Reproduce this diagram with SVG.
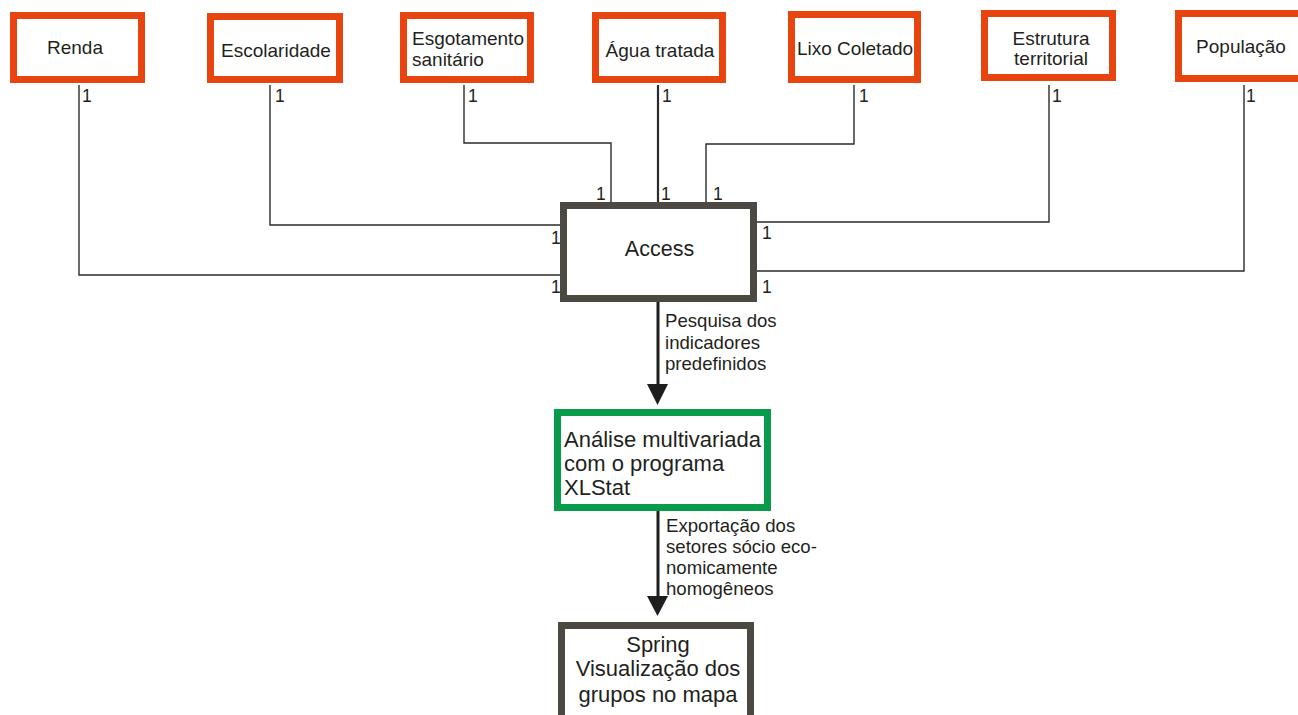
<svg xmlns="http://www.w3.org/2000/svg" width="1298" height="715" viewBox="0 0 1298 715">
<style>
  text { font-family: "Liberation Sans", Arial, sans-serif; fill: #231f20; }
  .src { fill: #ffffff; stroke: #e8440f; stroke-width: 7; }
  .dark { fill: #ffffff; stroke: #4b4942; stroke-width: 7; }
  .green { fill: #ffffff; stroke: #0a9a4c; stroke-width: 7; }
  .t19 { font-size: 19px; }
  .t22 { font-size: 22px; }
  .lbl { font-size: 18.6px; }
  .one { font-size: 17.5px; }
  .conn { fill: none; stroke: #2b2b2b; stroke-width: 1.4; }
  .arrow { fill: none; stroke: #1f1d1d; stroke-width: 3; }
  .head { fill: #1f1d1d; }
</style>
<rect width="1298" height="715" fill="#ffffff"/>

<g id="connectors">
  <path class="conn" d="M79 85 V275 H560"/>
  <path class="conn" d="M270 85 V225 H560"/>
  <path class="conn" d="M464 85 V143 H611 V202"/>
  <path class="conn" d="M658 85 V202" style="stroke-width:2.2"/>
  <path class="conn" d="M854 85 V144 H706 V202"/>
  <path class="conn" d="M1049 85 V222 H757"/>
  <path class="conn" d="M1244 85 V271 H757"/>
  <path class="arrow" d="M658 302 V388"/>
  <polygon class="head" points="647,384 668,384 657.5,405"/>
  <path class="arrow" d="M658 511 V599"/>
  <polygon class="head" points="647,596 668,596 657.5,616"/>
  <g class="one">
    <text x="82" y="102">1</text>
    <text x="275" y="102">1</text>
    <text x="468" y="102">1</text>
    <text x="662" y="102">1</text>
    <text x="859" y="102">1</text>
    <text x="1052" y="102">1</text>
    <text x="1246" y="102">1</text>
    <text x="596" y="200">1</text>
    <text x="661" y="200">1</text>
    <text x="713" y="200">1</text>
    <text x="551" y="244">1</text>
    <text x="551" y="293">1</text>
    <text x="762" y="239">1</text>
    <text x="762" y="293">1</text>
  </g>
  <g class="lbl">
    <text x="665" y="327">Pesquisa dos</text>
    <text x="665" y="349">indicadores</text>
    <text x="665" y="370">predefinidos</text>
    <text x="666" y="532">Exportação dos</text>
    <text x="666" y="553">setores sócio eco-</text>
    <text x="666" y="574">nomicamente</text>
    <text x="666" y="595">homogêneos</text>
  </g>
</g>

<g id="renda">
  <rect class="src" x="13.5" y="15.5" width="128" height="64"/>
  <text class="t19" x="75" y="54" text-anchor="middle">Renda</text>
</g>
<g id="escolaridade">
  <rect class="src" x="210.5" y="16.5" width="129" height="63"/>
  <text class="t19" x="276" y="57" text-anchor="middle">Escolaridade</text>
</g>
<g id="esgotamento">
  <rect class="src" x="403.5" y="15.5" width="127" height="64"/>
  <text class="t19" x="412" y="45">Esgotamento</text>
  <text class="t19" x="412" y="66">sanitário</text>
</g>
<g id="agua">
  <rect class="src" x="595.5" y="15.5" width="127" height="64"/>
  <text class="t19" x="660" y="57" text-anchor="middle">Água tratada</text>
</g>
<g id="lixo">
  <rect class="src" x="791.5" y="14.5" width="126" height="65"/>
  <text class="t19" x="855" y="55" text-anchor="middle">Lixo Coletado</text>
</g>
<g id="estrutura">
  <rect class="src" x="984.5" y="13.5" width="128" height="64"/>
  <text class="t19" x="1051" y="45" text-anchor="middle">Estrutura</text>
  <text class="t19" x="1051" y="65" text-anchor="middle">territorial</text>
</g>
<g id="populacao">
  <rect class="src" x="1178.5" y="13.5" width="127" height="65"/>
  <text class="t19" x="1241" y="53" text-anchor="middle">População</text>
</g>
<g id="access">
  <rect class="dark" x="563.5" y="205.5" width="190" height="93"/>
  <text x="659.5" y="256" text-anchor="middle" style="font-size:21.5px">Access</text>
</g>
<g id="analise">
  <rect class="green" x="557.5" y="412.5" width="210" height="95"/>
  <text class="t22" x="564" y="447">Análise multivariada</text>
  <text class="t22" x="564" y="471">com o programa</text>
  <text class="t22" x="564" y="495">XLStat</text>
</g>
<g id="spring">
  <rect class="dark" x="561.5" y="625.5" width="189" height="100"/>
  <text class="t22" x="658" y="652" text-anchor="middle">Spring</text>
  <text class="t22" x="658" y="676" text-anchor="middle">Visualização dos</text>
  <text class="t22" x="658" y="702" text-anchor="middle">grupos no mapa</text>
</g>
</svg>
